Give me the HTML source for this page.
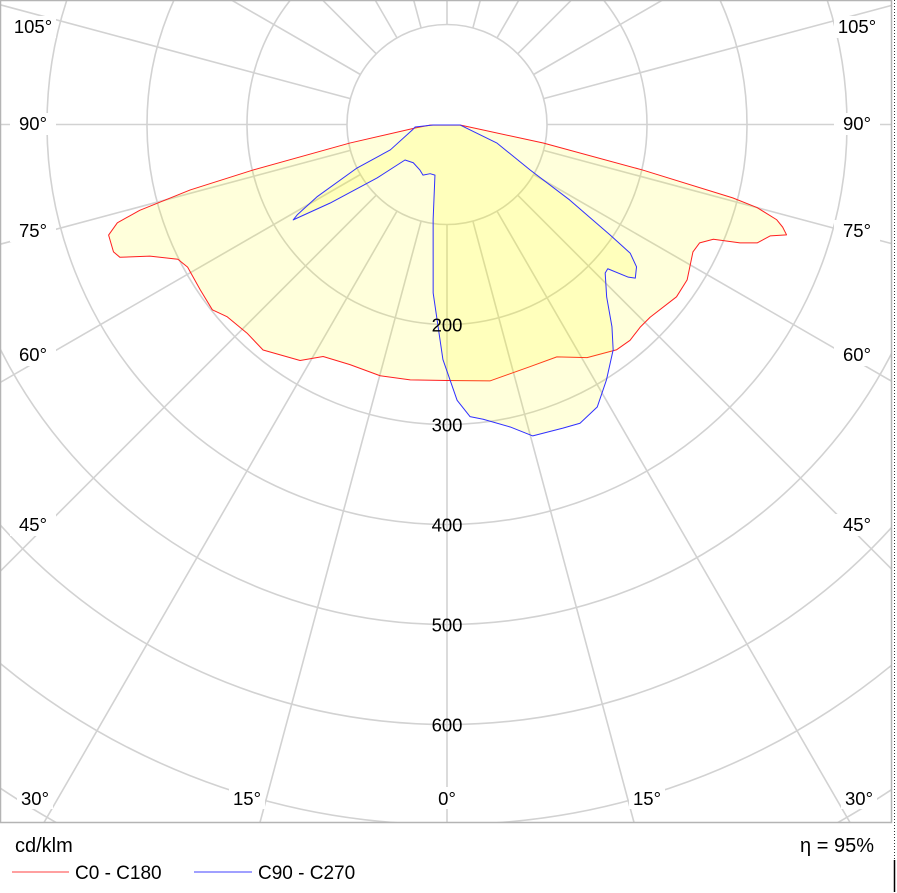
<!DOCTYPE html>
<html><head><meta charset="utf-8">
<style>
html,body{margin:0;padding:0;background:#fff;width:897px;height:893px;overflow:hidden;}
body{position:relative;font-family:"Liberation Sans",Arial,sans-serif;}
svg{position:absolute;left:0;top:0;display:block;}
</style></head>
<body>
<svg id="chart" width="897" height="893" viewBox="0 0 897 893" xmlns="http://www.w3.org/2000/svg">
  <defs><clipPath id="plotClip"><rect x="1" y="1" width="890" height="821"/></clipPath></defs>
  <g id="grid" clip-path="url(#plotClip)"></g>
  <g id="series" clip-path="url(#plotClip)"></g>
  <g id="labels"></g>
  <rect x="0.5" y="0.5" width="891" height="822" fill="none" stroke="#b4b4b4" stroke-width="1.5"/>
  <line x1="894.5" y1="0" x2="894.5" y2="860" stroke="#333" stroke-width="1" stroke-dasharray="1,2"/>
  <line x1="894.5" y1="860" x2="894.5" y2="892" stroke="#000" stroke-width="1.5"/>
  <text x="15" y="852" font-size="20" fill="#000">cd/klm</text>
  <text x="874" y="852" font-size="20" fill="#000" text-anchor="end">η = 95%</text>
  <g>
    <line x1="12" y1="872" x2="69" y2="872" stroke="#ff8080" stroke-width="1.5"/>
    <text x="75" y="879" font-size="19" fill="#000">C0 - C180</text>
  </g>
  <g>
    <line x1="194" y1="872" x2="252" y2="872" stroke="#8080ff" stroke-width="1.5"/>
    <text x="258" y="879" font-size="19" fill="#000">C90 - C270</text>
  </g>
</svg>
<script>
// ---- data (gamma in degrees, 0 = straight down, negative = left half; intensity in cd/klm)
const redGamma = [-88,-83.8,-79.2,-76.8,-75.7,-74.4,-73.4,-71.9,-69.1,-67.9,-66.1,-63.4,-61.2,-56.2,-51.7,-48.8,-43.8,-39.2,-31.9,-28.1,-22.0,-14.9,-8.2,0,9.5,18.9,25.3,31.0,37.0,40.3,43.6,46.5,53.1,57.1,62.6,64.9,66.7,68.0,69.1,71.0,72.0,73.0,73.9,75.0,75.6,76.9,79.1,88];
const redI = [17,32,99,199,265,319,344,356,357,353,325,301,296,297,299,292,289,291,278,263,259,260,258,256,260,256,257,272,282,283,280,280,287,286,277,279,290,316,332,342,357,351,343,321,295,201,98,13];
const blueGamma = [-88,-85.5,-81.1,-65.9,-64.2,-60.9,-58.9,-58.2,-56.1,-52.6,-49.8,-41.4,-30.7,-25.4,-18.9,-13.4,-8.3,-4.7,-1.0,2.1,4.5,7.0,11.8,15.4,20.9,24.0,28.0,32.0,36.4,39.2,42.8,46.8,48.1,49.9,50.8,53.1,54.9,55.9,58.4,61.3,69.7,88];
const blueI = [14,32,35,62,100,149,175,181,141,88,55,51,53,56,52,52,96,169,235,276,293,297,309,323,325,327,320,301,280,261,235,217,216,237,243,237,224,197,144,95,53,13];
const ringValues = [100,200,300,400,500,600,700,800,900,1000,1100,1200];
const ringLabels = ["200","300","400","500","600"];
const ringLabelValues = [200,300,400,500,600];
const angleLabels = ["0°","15°","30°","45°","60°","75°","90°","105°"];

const CX = 447, CY = 124.5, SCALE = 1.0;
const NS = "http://www.w3.org/2000/svg";
function px(g, v){ const a = g*Math.PI/180; return [CX + Math.sin(a)*v*SCALE, CY + Math.cos(a)*v*SCALE]; }
function mk(tag, attrs, parent){ const e=document.createElementNS(NS,tag); for(const k in attrs) e.setAttribute(k,attrs[k]); parent.appendChild(e); return e; }

const grid = document.getElementById('grid');
ringValues.forEach(v=>{
  const c = mk('circle',{cx:CX,cy:CY,r:v*SCALE,fill:'none',stroke:'#d2d2d2','stroke-width':1.6},grid);
  
  
});
for(let g=0; g<360; g+=15){
  const p1 = px(g,100), p2 = px(g,1400);
  const l = mk('line',{x1:p1[0],y1:p1[1],x2:p2[0],y2:p2[1],stroke:'#d2d2d2','stroke-width':1.6},grid);
  
  
}

const series = document.getElementById('series');
function poly(G, I, stroke, name){
  const pts = G.map((g,i)=>px(g,I[i]).join(',')).join(' ');
  const p = mk('polygon',{points:pts,fill:'rgba(255,255,0,0.14)',stroke:stroke,'stroke-width':1,'stroke-linejoin':'round'},series);
  
  
}
poly(redGamma, redI, '#ff2020', 'curve-c0-c180');
poly(blueGamma, blueI, '#3030ff', 'curve-c90-c270');

const labels = document.getElementById('labels');
ringLabels.forEach((t,i)=>{
  const y = CY + ringLabelValues[i]*SCALE;
  const tx = mk('text',{x:CX,y:y+7,'font-size':18.5,'text-anchor':'middle',fill:'#000'},labels);
  tx.textContent = t;
  
  
});
const edgeY = {"105°":27,"90°":124,"75°":231,"60°":355,"45°":525};
const bottomX = {"0°":447,"15°":247,"30°":35};
angleLabels.forEach(t=>{
  if(edgeY[t]!==undefined){
    [[33,'left'],[857,'right']].forEach(([x,side])=>{
      const bg = mk('rect',{x:x-23,y:edgeY[t]-11,width:46,height:22,fill:'#fff'},labels);
      
      
      const tx = mk('text',{x:x,y:edgeY[t]+6,'font-size':18.5,'text-anchor':'middle',fill:'#000'},labels);
      tx.textContent = t;
      
      
    });
  } else {
    const xs = t==="0°" ? [bottomX[t]] : [bottomX[t], 2*CX-bottomX[t]];
    xs.forEach((x,k)=>{
      const bg = mk('rect',{x:x-18,y:787,width:36,height:22,fill:'#fff'},labels);
      
      
      const tx = mk('text',{x:x,y:805,'font-size':18.5,'text-anchor':'middle',fill:'#000'},labels);
      tx.textContent = t;
      
      
    });
  }
});
</script>
</body></html>
